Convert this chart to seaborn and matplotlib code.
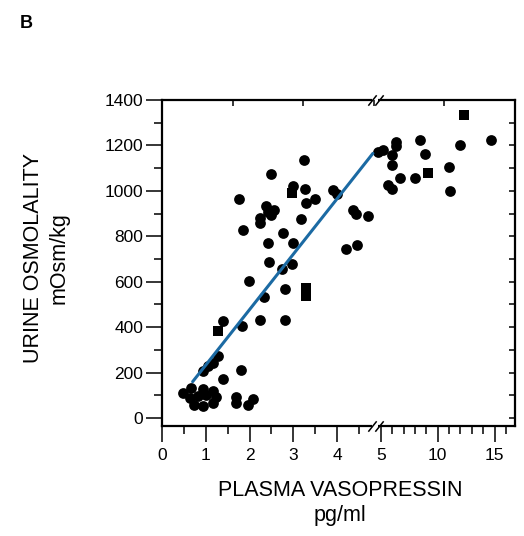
import matplotlib
matplotlib.use("Agg")
import matplotlib.pyplot as plt
import matplotlib.transforms as mtransforms
import numpy as np
import pandas as pd
import seaborn as sns

# plasma vasopressin (pg/ml) vs urine osmolality (mOsm/kg)
vp_round = [
    3.24, 2.50, 3.26, 1.77, 3.49, 3.28, 3.91, 3.99, 2.37, 2.57, 2.50, 2.42,
    2.23, 2.23, 3.18, 4.37, 4.44, 4.71, 1.85, 2.76, 2.42, 2.99, 4.45, 4.21,
    2.44, 2.98, 2.75, 1.98, 2.82, 2.34, 1.39, 2.23, 2.82, 1.82, 2.99,
    1.27, 1.16, 1.04, 0.93, 1.81, 1.39, 0.49, 0.67, 0.93, 0.63, 0.82, 1.16,
    1.24, 0.74, 0.93, 1.16, 1.69, 1.69, 1.96, 2.08, 1.00,
    4.94, 5.20, 6.38, 6.38, 6.03, 6.03, 5.64, 5.99, 6.73, 7.98, 8.42, 8.86,
    10.99, 11.05, 11.93, 14.71,
]
osm_round = [
    1138, 1073, 1007, 964, 964, 948, 1006, 986, 932, 916, 894, 907,
    879, 857, 874, 916, 898, 891, 828, 816, 769, 769, 762, 743,
    686, 677, 656, 605, 567, 535, 425, 432, 432, 407, 1021,
    271, 244, 227, 205, 212, 171, 111, 133, 127, 88, 95, 117,
    92, 58, 51, 66, 92, 66, 58, 85, 103,
    1172, 1179, 1216, 1197, 1157, 1113, 1025, 1007, 1055, 1055, 1223, 1162,
    1106, 999, 1204, 1226,
]
vp_square = [2.98, 3.28, 3.28, 1.27, 9.15, 12.31]
osm_square = [989, 571, 539, 381, 1080, 1333]

# regression line
fit_x = [0.70, 4.82]
fit_y = [160, 1165]

x_tick_vals = [0, 1, 2, 3, 4, 5, 10, 15]
y_tick_vals = [0, 200, 400, 600, 800, 1000, 1200, 1400]

BREAK = 5.0
SQUEEZE = 0.26


def fwd(x):
    x = np.asarray(x, dtype=float)
    return np.where(x <= BREAK, x, BREAK + (x - BREAK) * SQUEEZE)


def inv(x):
    x = np.asarray(x, dtype=float)
    return np.where(x <= BREAK, x, BREAK + (x - BREAK) / SQUEEZE)


sns.set_theme(style="ticks")
plt.rcParams["font.family"] = ["Liberation Sans", "DejaVu Sans"]

rounds = pd.DataFrame({"vp": vp_round, "osm": osm_round})
squares = pd.DataFrame({"vp": vp_square, "osm": osm_square})

fig = plt.figure(figsize=(5.24, 5.36), dpi=100)
ax = fig.add_axes([162 / 524, 1 - 426 / 536, 353 / 524, 326 / 536])

sns.scatterplot(data=rounds, x="vp", y="osm", marker="o", color="black",
                s=60, linewidth=0, legend=False, ax=ax, zorder=2)
sns.scatterplot(data=squares, x="vp", y="osm", marker="s", color="black",
                s=50, linewidth=0, legend=False, ax=ax, zorder=2)
ax.plot(fit_x, fit_y, color="#1b6aa3", lw=2.2, zorder=3)

ax.set_xscale("function", functions=(fwd, inv))
ax.set_xlim(0, 16.8)
ax.set_ylim(-35, 1400)

ax.set_xticks(x_tick_vals)
ax.set_xticklabels([str(v) for v in x_tick_vals])
x_minor = [v for v in list(np.arange(0.5, 5, 1.0)) + list(range(6, 17)) if v not in x_tick_vals]
ax.set_xticks(x_minor, minor=True)
ax.set_yticks(y_tick_vals)
ax.set_yticks(np.arange(100, 1400, 200), minor=True)

for s in ax.spines.values():
    s.set_visible(True)
    s.set_linewidth(1.6)
    s.set_color("black")

ax.tick_params(axis="both", which="major", direction="out", length=11.5, width=1.1,
               color="black", labelsize=12.5, labelcolor="black")
ax.tick_params(axis="x", which="minor", direction="out", length=6, width=1.1, color="black")
ax.tick_params(axis="y", which="minor", direction="out", length=6, width=1.1, color="black")
ax.tick_params(axis="x", which="major", pad=4)
ax.tick_params(axis="y", which="major", pad=2)

# inward ticks along the top
ax_top = ax.twiny()
ax_top.tick_params(axis="x", which="both", direction="in", length=4.5, width=1.1,
                   color="black", labeltop=False)
for s in ax_top.spines.values():
    s.set_visible(False)

# inward ticks along the right
ax_right = ax.secondary_yaxis("right")
ax_right.set_yticks(np.arange(0, 1401, 100))
ax_right.tick_params(axis="y", direction="in", length=4.5, width=1.1,
                     color="black", labelright=False)
ax_right.spines["right"].set_visible(False)

# axis break marks at 5 pg/ml
xt = ax.get_xaxis_transform()
for yy in (0, 1):
    gap = xt + mtransforms.ScaledTranslation(-4 / 72, 0, fig.dpi_scale_trans)
    ax.plot([BREAK], [yy], transform=gap, marker=[(-1, 0), (1, 0)], ms=4,
            mew=3, color="white", clip_on=False, zorder=6)
    for dx in (-6.2, -1.6):
        t = xt + mtransforms.ScaledTranslation(dx / 72, 0, fig.dpi_scale_trans)
        ax.plot([BREAK], [yy], transform=t, marker=[(-0.8, -1), (0.8, 1)], ms=7.5,
                mew=1.1, color="black", clip_on=False, zorder=7)

ax.set_xlabel("")
ax.set_ylabel("")
fig.text(340 / 524, 1 - 503 / 536, "PLASMA VASOPRESSIN\npg/ml", ha="center", va="center",
         fontsize=15.5, linespacing=1.3, color="black")
fig.text(46 / 524, 1 - 258 / 536, "URINE OSMOLALITY\nmOsm/kg", ha="center", va="center",
         rotation=90, fontsize=15.5, linespacing=1.3, color="black")
fig.text(20 / 524, 1 - 24 / 536, "B", ha="left", va="center", fontsize=13,
         fontweight="bold", color="black")

fig.savefig("out.png", dpi=100)
